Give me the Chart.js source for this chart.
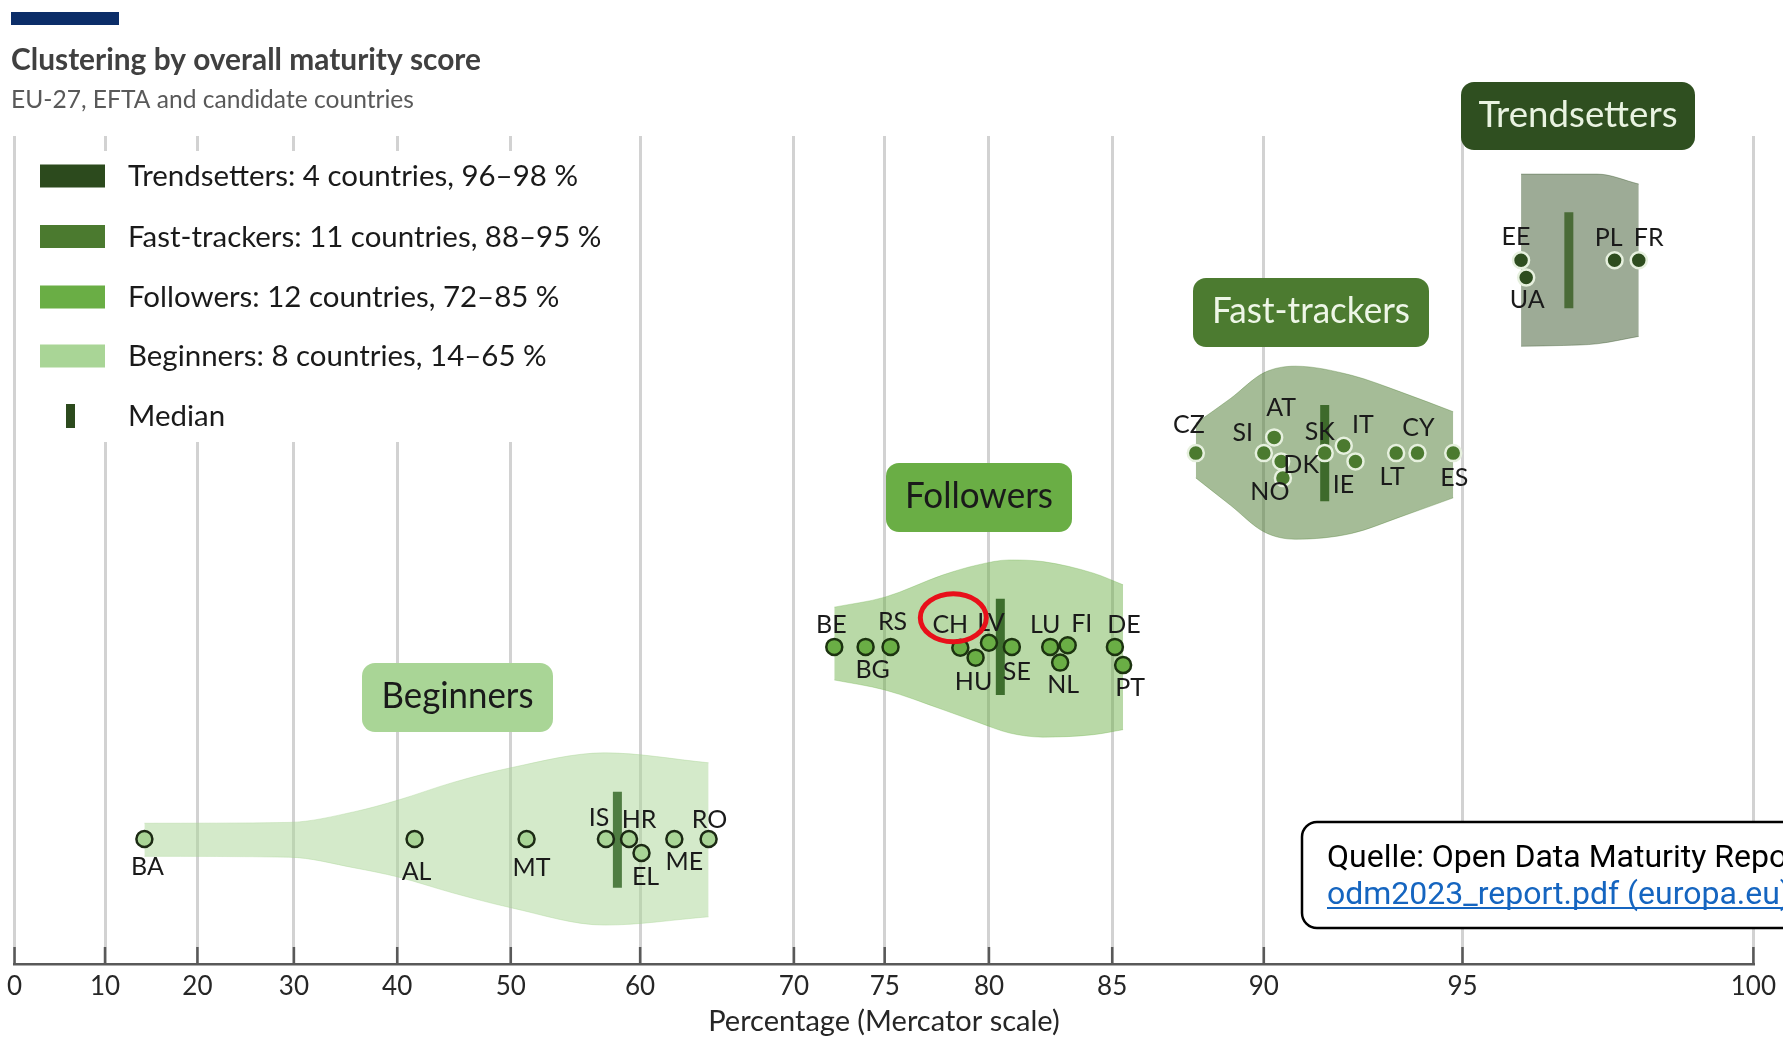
<!DOCTYPE html>
<html>
<head>
<meta charset="utf-8">
<script src="https://cdn.jsdelivr.net/npm/chart.js@4.4.1/dist/chart.umd.min.js"></script>
<style>
  html, body { margin: 0; padding: 0; background: #fff; }
  #wrap { position: relative; width: 1783px; height: 1038px; }
</style>
</head>
<body>
<div id="wrap"><canvas id="maturity-chart"></canvas></div>
<script>
// ---- data ----
const xTickValues = [0, 10, 20, 30, 40, 50, 60, 70, 75, 80, 85, 90, 95, 100];

const trendCodes = ['EE', 'UA', 'PL', 'FR'];
const trendScores = [96.2, 96.3, 97.9, 98.3];
const trendRows = [85.0, 82.9, 85.0, 85.0];
const trendShapeX = [96.2, 97.0, 97.6, 98.3];
const trendShapeUp = [10.4, 10.4, 10.4, 9.2];
const trendShapeDown = [10.4, 10.3, 10.1, 9.2];

const fastCodes = ['CZ', 'SI', 'AT', 'DK', 'NO', 'SK', 'IT', 'IE', 'LT', 'CY', 'ES'];
const fastScores = [87.9, 90.0, 90.3, 90.5, 90.55, 91.7, 92.2, 92.5, 93.5, 94.0, 94.8];
const fastRows = [61.7, 61.7, 63.6, 60.7, 58.7, 61.7, 62.6, 60.7, 61.7, 61.7, 61.7];
const fastShapeX = [87.9, 89.0, 90.0, 90.9, 92.4, 93.6, 94.8];
const fastShapeUp = [3.6, 6.6, 9.7, 10.5, 9.4, 7.4, 5.0];
const fastShapeDown = [3.0, 6.3, 9.5, 10.4, 9.7, 7.7, 5.4];

const followCodes = ['BE', 'BG', 'RS', 'CH', 'HU', 'LV', 'SE', 'LU', 'NL', 'FI', 'DE', 'PT'];
const followScores = [72.3, 74.0, 75.3, 78.7, 79.4, 80.0, 81.0, 82.6, 83.0, 83.3, 85.1, 85.4];
const followRows = [38.3, 38.3, 38.3, 38.2, 37.0, 38.8, 38.3, 38.3, 36.4, 38.5, 38.3, 36.1];
const followShapeX = [72.3, 75.0, 77.9, 79.5, 80.9, 82.3, 84.3, 85.4];
const followShapeUp = [4.8, 6.0, 8.7, 9.9, 10.5, 10.3, 8.9, 7.5];
const followShapeDown = [4.0, 5.2, 7.6, 9.1, 10.4, 10.9, 10.6, 10.0];

const beginCodes = ['BA', 'AL', 'MT', 'IS', 'HR', 'EL', 'ME', 'RO'];
const beginScores = [14.3, 41.6, 51.3, 57.5, 59.2, 60.1, 62.4, 64.7];
const beginRows = [15.1, 15.1, 15.1, 15.1, 15.1, 13.4, 15.1, 15.1];
const beginShapeX = [14.3, 29.5, 36.0, 40.1, 45.0, 50.0, 57.4, 64.7];
const beginShapeUp = [2.0, 2.1, 3.4, 4.8, 6.9, 8.7, 10.5, 9.3];
const beginShapeDown = [2.0, 2.1, 3.4, 4.5, 6.4, 8.2, 10.3, 9.3];

const clusterNames = ['Trendsetters', 'Fast-trackers', 'Followers', 'Beginners'];
const clusterCentres = [85.0, 61.7, 38.3, 15.0];
const legendTexts = [
  'Trendsetters: 4 countries, 96\u201398 %',
  'Fast-trackers: 11 countries, 88\u201395 %',
  'Followers: 12 countries, 72\u201385 %',
  'Beginners: 8 countries, 14\u201365 %'
];

// ---- styles ----
const FONT = 'Lato, "Open Sans", sans-serif';
const clusterStyles = [
  { swatch: '#2c4a1d', violin: 'rgba(46,77,31,0.47)', edge: 'rgba(46,77,31,0.35)', median: '#4a6b37', dot: '#2e4d1f', dotEdge: '#e6f0de', box: '#2f4f20', boxText: '#e9f3e1' },
  { swatch: '#4b7a2f', violin: 'rgba(75,122,47,0.5)', edge: 'rgba(75,122,47,0.35)', median: '#3e6a2b', dot: '#4b7a2f', dotEdge: '#e6f0de', box: '#4c7b30', boxText: '#eef6e7' },
  { swatch: '#6aae45', violin: 'rgba(106,174,69,0.47)', edge: 'rgba(106,174,69,0.3)', median: '#3d6e2d', dot: '#6aae45', dotEdge: '#1c3310', box: '#6aae45', boxText: '#1a1a1a' },
  { swatch: '#a9d596', violin: 'rgba(169,213,150,0.5)', edge: 'rgba(169,213,150,0.4)', median: '#4f7d42', dot: '#a9d596', dotEdge: '#1c2a14', box: '#a9d596', boxText: '#1a1a1a' }
];
// cluster name boxes: pixel layout [left, top, width, height, textWidth]
const nameBoxes = [
  [1461, 82, 234, 68, 199],
  [1193, 278, 236, 69, 198],
  [886, 463, 186, 69, 148],
  [362, 663, 191, 69, 152]
];
// label offsets from the point centre, in pixels
const labelOffsets = {
  EE: [-5, -23], UA: [1, 22], PL: [-6, -22], FR: [10, -22],
  CZ: [-7, -28], SI: [-21, -20], AT: [7, -29], DK: [20, 4], NO: [-13, 14], SK: [-5, -21],
  IT: [19, -21], IE: [-12, 24], LT: [-4, 24], CY: [1, -25], ES: [1, 25],
  BE: [-3, -22], BG: [7, 23], RS: [2, -25], CH: [-10, -23], HU: [-2, 24], LV: [2, -20],
  SE: [5, 25], LU: [-5, -22], FI: [14, -21], NL: [3, 22], DE: [9, -22], PT: [7, 23],
  BA: [3, 28], AL: [2, 33], MT: [5, 29], IS: [-7, -21], HR: [10, -19], EL: [4, 24], ME: [10, 23], RO: [1, -19]
};
const MEDIAN_HALF = 5.8;

// Mercator scale: percentage p maps to latitude p% of 83 degrees
const THETA = 83 * Math.PI / 180;
function merc(p) { return Math.log(Math.tan(Math.PI / 4 + (p / 100) * THETA / 2)); }

class MercatorScale extends Chart.LinearScale {
  buildTicks() {
    return xTickValues.map(v => ({ value: v }));
  }
  getPixelForValue(value) {
    const a = merc(this.min), b = merc(this.max);
    return this.getPixelForDecimal((merc(value) - a) / (b - a));
  }
  getValueForPixel(pixel) {
    const a = merc(this.min), b = merc(this.max);
    const g = a + this.getDecimalForPixel(pixel) * (b - a);
    return (2 * Math.atan(Math.exp(g)) - Math.PI / 2) / THETA * 100;
  }
}
MercatorScale.id = 'mercator';
MercatorScale.defaults = Chart.LinearScale.defaults;
Chart.register(MercatorScale);

function median(values) {
  const s = values.slice().sort((a, b) => a - b);
  const m = Math.floor(s.length / 2);
  return s.length % 2 ? s[m] : (s[m - 1] + s[m]) / 2;
}

const clusters = [
  { codes: trendCodes, scores: trendScores, rows: trendRows, sx: trendShapeX, up: trendShapeUp, down: trendShapeDown },
  { codes: fastCodes, scores: fastScores, rows: fastRows, sx: fastShapeX, up: fastShapeUp, down: fastShapeDown },
  { codes: followCodes, scores: followScores, rows: followRows, sx: followShapeX, up: followShapeUp, down: followShapeDown },
  { codes: beginCodes, scores: beginScores, rows: beginRows, sx: beginShapeX, up: beginShapeUp, down: beginShapeDown }
];

const datasets = [];
clusters.forEach((c, i) => {
  const st = clusterStyles[i];
  const centre = clusterCentres[i];
  // violin: upper edge filled down to the lower edge
  datasets.push({
    label: clusterNames[i] + ' upper',
    data: c.sx.map((x, j) => ({ x: x, y: centre + c.up[j] })),
    fill: '+1',
    backgroundColor: st.violin,
    borderColor: st.edge,
    borderWidth: 1,
    pointRadius: 0,
    cubicInterpolationMode: 'monotone',
    order: 3
  });
  datasets.push({
    label: clusterNames[i] + ' lower',
    data: c.sx.map((x, j) => ({ x: x, y: centre - c.down[j] })),
    fill: false,
    borderColor: st.edge,
    borderWidth: 1,
    pointRadius: 0,
    cubicInterpolationMode: 'monotone',
    order: 3
  });
  const med = median(c.scores);
  datasets.push({
    label: clusterNames[i] + ' median',
    data: [{ x: med, y: centre - MEDIAN_HALF }, { x: med, y: centre + MEDIAN_HALF }],
    borderColor: st.median,
    borderWidth: 9,
    borderCapStyle: 'butt',
    pointRadius: 0,
    fill: false,
    order: 2
  });
  datasets.push({
    label: clusterNames[i],
    codes: c.codes,
    data: c.scores.map((s, j) => ({ x: s, y: c.rows[j] })),
    showLine: false,
    pointRadius: 8,
    pointBorderWidth: 2.5,
    pointBackgroundColor: st.dot,
    pointBorderColor: st.dotEdge,
    order: 1
  });
});

function fitText(ctx, text, x, y, font, color, scaleX, align) {
  ctx.save();
  ctx.font = font;
  ctx.fillStyle = color;
  ctx.textAlign = align || 'left';
  ctx.textBaseline = 'alphabetic';
  ctx.translate(x, y);
  ctx.scale(scaleX, 1);
  ctx.fillText(text, 0, 0);
  ctx.restore();
}
function widthScale(ctx, text, font, target) {
  ctx.save();
  ctx.font = font;
  const w = ctx.measureText(text).width;
  ctx.restore();
  return target / w;
}
function roundBox(ctx, x, y, w, h, r) {
  ctx.beginPath();
  ctx.moveTo(x + r, y);
  ctx.arcTo(x + w, y, x + w, y + h, r);
  ctx.arcTo(x + w, y + h, x, y + h, r);
  ctx.arcTo(x, y + h, x, y, r);
  ctx.arcTo(x, y, x + w, y, r);
  ctx.closePath();
}

const overlayPlugin = {
  id: 'overlay',
  afterDatasetsDraw(chart) {
    const ctx = chart.ctx;
    ctx.save();
    ctx.font = '25px ' + FONT;
    ctx.fillStyle = '#1a1a1a';
    ctx.textAlign = 'center';
    ctx.textBaseline = 'middle';
    chart.data.datasets.forEach((ds, i) => {
      if (!ds.codes) return;
      chart.getDatasetMeta(i).data.forEach((pt, j) => {
        const code = ds.codes[j];
        const off = labelOffsets[code] || [0, -22];
        ctx.fillText(code, pt.x + off[0], pt.y + off[1]);
      });
    });
    ctx.restore();
  },
  afterDraw(chart) {
    const ctx = chart.ctx;
    const xs = chart.scales.x;
    const axisY = chart.chartArea.bottom;
    ctx.save();

    // tick marks pointing up from the axis
    ctx.strokeStyle = '#595959';
    ctx.lineWidth = 2.5;
    xs.ticks.forEach(t => {
      const px = xs.getPixelForValue(t.value);
      ctx.beginPath();
      ctx.moveTo(px, axisY);
      ctx.lineTo(px, axisY - 17);
      ctx.stroke();
    });

    // header
    ctx.fillStyle = '#0b2d68';
    ctx.fillRect(11, 12, 108, 13);
    const titleFont = 'bold 30px ' + FONT;
    const titleText = 'Clustering by overall maturity score';
    fitText(ctx, titleText, 11, 70, titleFont, '#404040', widthScale(ctx, titleText, titleFont, 470));
    const subFont = '25px ' + FONT;
    const subText = 'EU-27, EFTA and candidate countries';
    fitText(ctx, subText, 11, 108, subFont, '#595959', widthScale(ctx, subText, subFont, 403));

    // legend
    ctx.fillStyle = '#ffffff';
    ctx.fillRect(16, 151, 590, 291);
    const legFont = '28px ' + FONT;
    const legScale = widthScale(ctx, legendTexts[0], legFont, 450);
    const rowY = [176, 236.5, 297, 356];
    legendTexts.forEach((t, i) => {
      ctx.fillStyle = clusterStyles[i].swatch;
      ctx.fillRect(40, rowY[i] - 11.5, 65, 23);
      fitText(ctx, t, 128, rowY[i] + 10, legFont, '#1a1a1a', legScale);
    });
    ctx.fillStyle = '#2c4a1d';
    ctx.fillRect(66, 404, 9, 24);
    fitText(ctx, 'Median', 128, 426, legFont, '#1a1a1a', legScale);

    // cluster name boxes
    nameBoxes.forEach((b, i) => {
      const st = clusterStyles[i];
      roundBox(ctx, b[0], b[1], b[2], b[3], 13);
      ctx.fillStyle = st.box;
      ctx.fill();
      const f = '37px ' + FONT;
      const s = widthScale(ctx, clusterNames[i], f, b[4]);
      fitText(ctx, clusterNames[i], b[0] + b[2] / 2, b[1] + b[3] / 2 + 10.5, f, st.boxText, s, 'center');
    });

    // red ring around CH
    const followIdx = chart.data.datasets.findIndex(d => d.label === 'Followers');
    const chPt = chart.getDatasetMeta(followIdx).data[followCodes.indexOf('CH')];
    ctx.strokeStyle = '#e8101a';
    ctx.lineWidth = 5;
    ctx.beginPath();
    ctx.ellipse(chPt.x - 7, chPt.y - 30, 33, 24, 0, 0, Math.PI * 2);
    ctx.stroke();

    // source box
    roundBox(ctx, 1302, 822, 560, 106, 15);
    ctx.fillStyle = '#ffffff';
    ctx.fill();
    ctx.strokeStyle = '#000000';
    ctx.lineWidth = 2.5;
    ctx.stroke();
    ctx.font = '32px Roboto, sans-serif';
    ctx.textAlign = 'left';
    ctx.textBaseline = 'alphabetic';
    ctx.fillStyle = '#000000';
    ctx.fillText('Quelle: Open Data Maturity Report 2023', 1327, 867);
    ctx.fillStyle = '#1565c0';
    const link = 'odm2023_report.pdf (europa.eu)';
    ctx.fillText(link, 1327, 904);
    const lw = ctx.measureText(link).width;
    ctx.fillRect(1327, 907, lw, 2);
    ctx.restore();
  }
};

const chart = new Chart(document.getElementById('maturity-chart').getContext('2d'), {
  type: 'line',
  data: { datasets: datasets },
  options: {
    responsive: true,
    maintainAspectRatio: false,
    animation: false,
    events: [],
    layout: { padding: { top: 136, left: 11.5, right: 29, bottom: 0 } },
    plugins: {
      legend: { display: false },
      tooltip: { enabled: false },
      title: { display: false }
    },
    scales: {
      x: {
        type: 'mercator',
        min: 0,
        max: 100,
        afterFit: function(scale) { scale.height = 74; },
        grid: { color: '#d2d2d2', lineWidth: 3, drawTicks: false },
        border: { display: true, color: '#595959', width: 2.5 },
        ticks: {
          autoSkip: false,
          maxRotation: 0,
          padding: 7,
          color: '#262626',
          font: { family: FONT, size: 26 },
          callback: v => String(v)
        },
        title: {
          display: true,
          text: 'Percentage (Mercator scale)',
          color: '#262626',
          font: { family: FONT, size: 29, lineHeight: 1 },
          padding: { top: 0, bottom: 2 }
        }
      },
      y: { type: 'linear', display: false, min: 0, max: 100 }
    }
  },
  plugins: [overlayPlugin]
});
</script>
</body>
</html>
